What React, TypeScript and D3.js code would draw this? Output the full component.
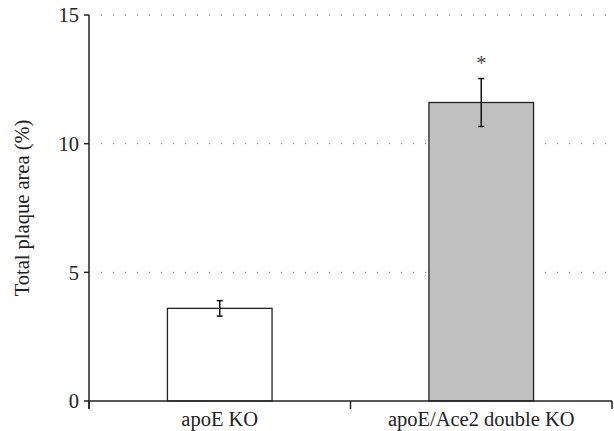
import * as d3 from "d3";

const groups = ["apoE KO", "apoE/Ace2 double KO"];
const means = [3.6, 11.6];
const errors = [0.3, 0.93];
const barColors = ["#ffffff", "#c0c0c0"];
const markers = ["", "*"];
const yTicks = [0, 5, 10, 15];

const width = 614;
const height = 431;
const margin = { left: 89, right: 2, top: 15, bottom: 30 };
const font = "Liberation Serif, serif";
const fs = 20.5;

export default function App() {
  const x = d3
    .scaleBand()
    .domain(groups)
    .range([margin.left, width - margin.right])
    .paddingInner(0.6)
    .paddingOuter(0.3);
  const y = d3
    .scaleLinear()
    .domain([0, 15])
    .range([height - margin.bottom, margin.top]);

  const step = x.step();
  const x0 = margin.left;
  const x1 = width - margin.right;
  const y0 = y(0);

  return (
    <svg
      width={width}
      height={height}
      style={{ position: "absolute", left: 0, top: 0, background: "#fff", fontFamily: font }}
    >
      {/* dotted gridlines */}
      {yTicks
        .filter((t) => t > 0)
        .map((t) => (
          <line
            key={t}
            x1={x0 + 12}
            x2={x1 - 6}
            y1={y(t)}
            y2={y(t)}
            stroke="#555"
            strokeWidth={1}
            strokeDasharray="1,11"
          />
        ))}

      {/* bars */}
      {groups.map((g, i) => (
        <rect
          key={g}
          x={x(g)}
          y={y(means[i])}
          width={x.bandwidth()}
          height={y0 - y(means[i])}
          fill={barColors[i]}
          stroke="#222"
          strokeWidth={1.3}
        />
      ))}

      {/* error bars */}
      {groups.map((g, i) => {
        const cx = (x(g) ?? 0) + x.bandwidth() / 2;
        const top = y(means[i] + errors[i]);
        const bot = y(means[i] - errors[i]);
        return (
          <g key={g} stroke="#111" strokeWidth={1.5}>
            <line x1={cx} x2={cx} y1={top} y2={bot} />
            <line x1={cx - 3} x2={cx + 3} y1={top} y2={top} />
            <line x1={cx - 3} x2={cx + 3} y1={bot} y2={bot} />
            {markers[i] && (
              <text
                x={cx}
                y={top - 9}
                textAnchor="middle"
                fontSize={fs}
                fill="#444"
                stroke="none"
              >
                {markers[i]}
              </text>
            )}
          </g>
        );
      })}

      {/* y axis */}
      <line x1={x0} x2={x0} y1={y(15)} y2={y0 + 8} stroke="#222" strokeWidth={1.5} />
      {yTicks.map((t) => (
        <g key={t}>
          <line x1={x0 - 5} x2={x0} y1={y(t)} y2={y(t)} stroke="#222" strokeWidth={1.5} />
          <text
            x={x0 - 10}
            y={y(t)}
            dy="0.35em"
            textAnchor="end"
            fontSize={fs}
            fill="#222"
          >
            {t}
          </text>
        </g>
      ))}

      {/* x axis */}
      <line x1={x0} x2={x1} y1={y0} y2={y0} stroke="#222" strokeWidth={1.5} />
      {[0, 1, 2].map((k) => (
        <line
          key={k}
          x1={x0 + k * step}
          x2={x0 + k * step}
          y1={y0}
          y2={y0 + 8}
          stroke="#222"
          strokeWidth={1.5}
        />
      ))}
      {groups.map((g) => (
        <text
          key={g}
          x={(x(g) ?? 0) + x.bandwidth() / 2}
          y={y0 + 25}
          textAnchor="middle"
          fontSize={fs}
          fill="#222"
        >
          {g}
        </text>
      ))}

      <text
        transform={`translate(29, ${(y(0) + y(15)) / 2}) rotate(-90)`}
        textAnchor="middle"
        fontSize={fs}
        fill="#222"
      >
        Total plaque area (%)
      </text>
    </svg>
  );
}
